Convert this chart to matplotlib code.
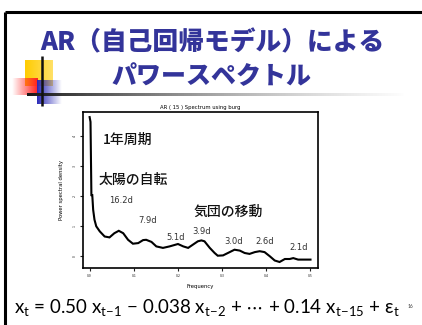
import numpy as np
import matplotlib
matplotlib.use('Agg')
import matplotlib.pyplot as plt
from matplotlib.colors import to_rgb

plt.rcParams['font.family'] = ['Noto Sans CJK JP', 'DejaVu Sans']
plt.rcParams['mathtext.fontset'] = 'custom'
plt.rcParams['mathtext.rm'] = 'Lato'
plt.rcParams['mathtext.it'] = 'Lato:italic'
plt.rcParams['mathtext.sf'] = 'Lato'

# AR(15) burg スペクトル（読み取り値）
freq = [0.000, 0.002, 0.004, 0.006, 0.008, 0.011, 0.015, 0.023, 0.034, 0.045,
        0.056, 0.066, 0.076, 0.087, 0.098, 0.110, 0.121, 0.128, 0.140, 0.151,
        0.166, 0.181, 0.200, 0.200, 0.212, 0.223, 0.234, 0.245, 0.253, 0.260,
        0.272, 0.283, 0.290, 0.302, 0.313, 0.328, 0.340, 0.351, 0.362, 0.374,
        0.385, 0.396, 0.408, 0.419, 0.430, 0.442, 0.453, 0.461, 0.472, 0.500]
power = [4.64, 4.48, 2.04, 2.04, 1.55, 1.22, 1.00, 0.83, 0.66, 0.63,
         0.77, 0.85, 0.77, 0.55, 0.42, 0.44, 0.54, 0.55, 0.48, 0.33,
         0.28, 0.33, 0.41, 0.41, 0.33, 0.28, 0.39, 0.50, 0.53, 0.50,
         0.28, 0.11, 0.02, 0.03, 0.11, 0.22, 0.19, 0.11, 0.08, 0.14,
         0.17, 0.14, 0.00, -0.14, -0.19, -0.09, -0.09, -0.06, -0.11, -0.11]

period_labels = ['16.2d', '7.9d', '5.1d', '3.9d', '3.0d', '2.6d', '2.1d']
period_x = [0.045, 0.110, 0.174, 0.233, 0.306, 0.376, 0.452]
period_y = [1.85, 1.18, 0.61, 0.83, 0.50, 0.50, 0.28]

notes = ['1年周期', '太陽の自転', '気団の移動']
note_x = [0.030, 0.021, 0.236]
note_y = [3.87, 2.54, 1.49]

x_ticks = [0.0, 0.1, 0.2, 0.3, 0.4, 0.5]
y_ticks = [0, 1, 2, 3, 4]

W, H = 422, 325
fig = plt.figure(figsize=(W / 100, H / 100), dpi=100)

# スライド背景（ピクセル座標）
bg = fig.add_axes([0, 0, 1, 1])
bg.set_xlim(0, W)
bg.set_ylim(H, 0)
bg.axis('off')


def grad_rect(x0, x1, y0, y1, color, a_left, a_right, z=1):
    rgb = to_rgb(color)
    n = 64
    img = np.zeros((1, n, 4))
    img[..., :3] = rgb
    img[0, :, 3] = np.linspace(a_left, a_right, n)
    bg.imshow(img, extent=[x0, x1, y1, y0], aspect='auto',
              interpolation='bilinear', zorder=z)


# 枠
bg.plot([5, 5], [325, 12], color='black', lw=2.2, solid_capstyle='butt')
bg.plot([5, 422], [12, 12], color='black', lw=2.2, solid_capstyle='butt')

# 飾り
grad_rect(25, 53, 60, 86, '#ffcc00', 1.0, 0.6, z=1)
grad_rect(12, 38, 78, 95, '#ff2020', 0.0, 1.0, z=2)
grad_rect(37, 62, 80, 104, '#2a2ab8', 1.0, 0.0, z=2)
n = 200
line_img = np.zeros((1, n, 4))
line_img[0, :, 3] = np.linspace(1.0, 0.0, n) ** 0.6
line_img[0, :, :3] = np.linspace(0.1, 0.85, n)[:, None]
bg.imshow(line_img, extent=[27, 405, 96.2, 93.8], aspect='auto',
          interpolation='bilinear', zorder=3)
bg.plot([42, 42], [56, 106], color='#111111', lw=1.8, zorder=4,
        solid_capstyle='butt')
bg.set_xlim(0, W)
bg.set_ylim(H, 0)

# タイトル
title_color = '#33349a'
bg.text(212, 42, 'AR（自己回帰モデル）による', ha='center', va='center',
        fontsize=18.5, fontweight='heavy', color=title_color)
bg.text(212, 76, 'パワースペクトル', ha='center', va='center',
        fontsize=18, fontweight='heavy', color=title_color)

# 数式
bg.text(14, 307,
        r'x$_\mathrm{t}$ = 0.50 x$_\mathrm{t\!-\!1}$ − 0.038 x$_\mathrm{t\!-\!2}$'
        r' + $\cdots$ + 0.14 x$_\mathrm{t\!-\!15}$ + ε$_\mathrm{t}$',
        ha='left', va='center', fontsize=13.5,
        family=['Lato', 'DejaVu Sans'], color='black')
bg.text(410, 307, '16', ha='center', va='center', fontsize=3.5,
        color='#333333', family=['Lato', 'DejaVu Sans'])

# スペクトル図
ax = fig.add_axes([83 / W, 1 - 268 / H, (318 - 83) / W, (268 - 112) / H])
ax.plot(freq, power, color='black', lw=1.5, solid_joinstyle='miter')
ax.set_xlim(-0.015, 0.517)
ax.set_ylim(-0.39, 4.81)
ax.set_xticks(x_ticks)
ax.set_xticklabels([f'{v:.1f}' for v in x_ticks])
ax.set_yticks(y_ticks)
ax.set_yticklabels([str(v) for v in y_ticks], rotation=90, va='center')
ax.tick_params(labelsize=2.5, length=2.5, width=0.8, pad=2, colors='#222222')
for s in ax.spines.values():
    s.set_linewidth(1.2)
ax.set_title('AR ( 15 ) Spectrum using burg', fontsize=3.8, pad=2.5,
             family='DejaVu Sans')
ax.set_xlabel('Frequency', fontsize=3.8, labelpad=4, family='DejaVu Sans')
ax.set_ylabel('Power spectral density', fontsize=3.8, labelpad=6,
              family='DejaVu Sans')

for t, x, y in zip(notes, note_x, note_y):
    ax.text(x, y, t, fontsize=10, fontweight='medium', ha='left',
            va='center', color='#111111')
for t, x, y in zip(period_labels, period_x, period_y):
    ax.text(x, y, t, fontsize=6, ha='left', va='center', color='#333333',
            family='DejaVu Sans')

fig.savefig('out.png', dpi=100)
